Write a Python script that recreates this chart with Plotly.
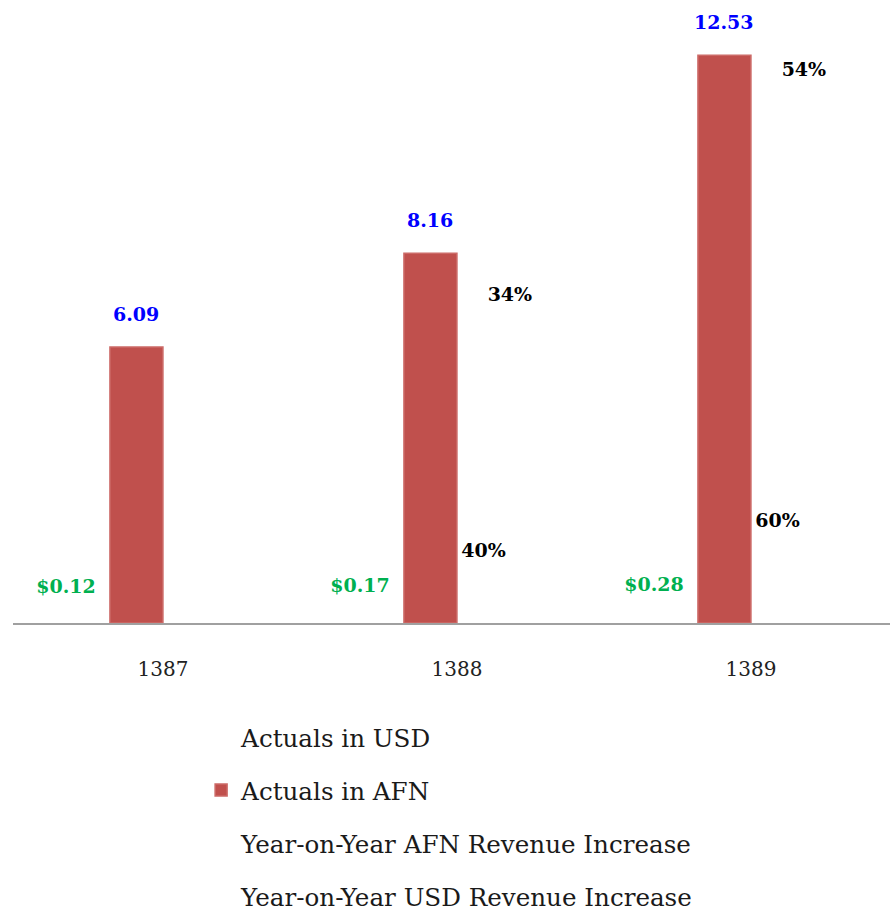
import plotly.graph_objects as go

years = ["1387", "1388", "1389"]
usd_actuals = [0.12, 0.17, 0.28]
afn_actuals = [6.09, 8.16, 12.53]
afn_yoy = [None, 34, 54]
usd_yoy = [None, 40, 60]

usd_labels = ["$0.12", "$0.17", "$0.28"]
afn_labels = ["6.09", "8.16", "12.53"]
afn_yoy_labels = ["", "34%", "54%"]
usd_yoy_labels = ["", "40%", "60%"]

RED = "#C0504D"
W = 53 / 294
LBL = dict(family="DejaVu Serif", size=19)
CLEAR = dict(color="rgba(255,255,255,0)", line=dict(width=0))

fig = go.Figure()

fig.add_trace(go.Bar(
    name="Actuals in USD", x=years, y=usd_actuals, yaxis="y2",
    width=W, offset=-0.42, marker=CLEAR,
    text=usd_labels, textposition="outside", cliponaxis=False,
    constraintext="none",
    textfont=dict(LBL, color="#00B050", weight="bold"),
    legendgroup="a", legendrank=1,
))
fig.add_trace(go.Bar(
    name="Actuals in AFN", x=years, y=afn_actuals, yaxis="y",
    width=W, offset=-W,
    marker=dict(color=RED, line=dict(color="#CC6A67", width=1.5)),
    legendgroup="b", legendrank=2,
))
fig.add_trace(go.Bar(
    name="Year-on-Year AFN Revenue Increase", x=years, y=afn_yoy, yaxis="y4",
    width=W, offset=0.09, marker=CLEAR,
    text=afn_yoy_labels, textposition="outside", cliponaxis=False,
    constraintext="none",
    textfont=dict(LBL, color="#000000", weight="bold"),
    legendgroup="c", legendrank=3,
))
fig.add_trace(go.Bar(
    name="Year-on-Year USD Revenue Increase", x=years, y=usd_yoy, yaxis="y3",
    width=W, offset=0.0, marker=CLEAR,
    text=usd_yoy_labels, textposition="outside", cliponaxis=False,
    constraintext="none",
    textfont=dict(LBL, color="#000000", weight="bold"),
    legendgroup="d", legendrank=4,
))

for i, (v, lab) in enumerate(zip(afn_actuals, afn_labels)):
    fig.add_annotation(
        x=i, y=v, xref="x", yref="y", text="<b>" + lab + "</b>",
        showarrow=False, xshift=-26.5, yshift=33, yanchor="middle",
        font=dict(family="DejaVu Serif", size=19, color="#0000FF"),
    )

hidden = dict(visible=False, showgrid=False, zeroline=False, fixedrange=True)
fig.update_layout(
    width=890, height=912,
    margin=dict(l=13, r=0, t=20, b=289, autoexpand=False),
    paper_bgcolor="white", plot_bgcolor="white",
    barmode="overlay",
    showlegend=True,
    xaxis=dict(type="category", range=[-0.51, 2.473], showline=True,
               linecolor="#A0A0A0", linewidth=2, ticks="",
               ticklabelstandoff=27,
               tickfont=dict(family="DejaVu Serif", size=20, color="#222222"),
               showgrid=False, zeroline=False),
    yaxis=dict(range=[0, 13.31], visible=True, showticklabels=False,
               showline=False, ticks="", showgrid=False, zeroline=False),
    yaxis2=dict(range=[-1.71, 46.5], overlaying="y", **hidden),
    yaxis3=dict(range=[0, 407], overlaying="y", **hidden),
    yaxis4=dict(range=[6, 59.6], overlaying="y", **hidden),
    legend=dict(x=0.2145, y=0.2165, xref="paper", yref="container",
                xanchor="left", yanchor="top",
                orientation="v", tracegroupgap=18, traceorder="grouped",
                font=dict(family="DejaVu Serif", size=24.6, color="#1a1a1a"),
                bgcolor="rgba(0,0,0,0)"),
)

fig.write_html("out.html", config={"displayModeBar": False},
               post_script="document.body.style.margin='0';")
